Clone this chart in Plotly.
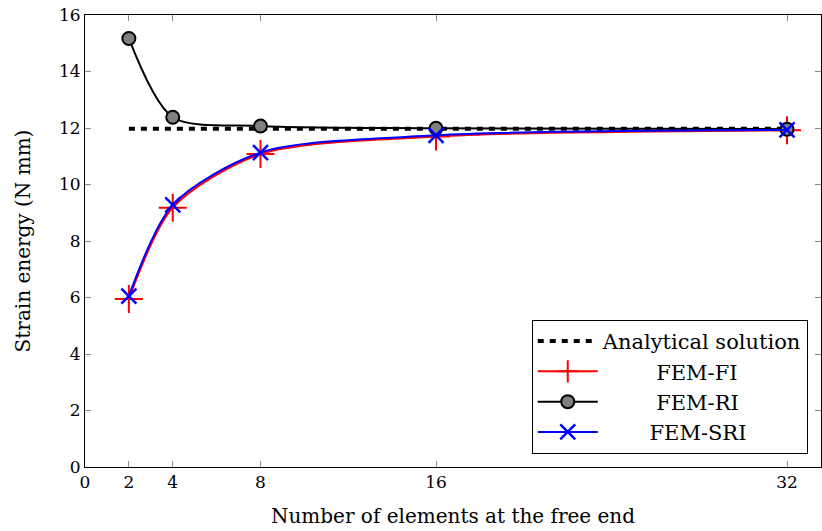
import plotly.graph_objects as go

x_vals = [2, 4, 8, 16, 32]
analytical_x = [2, 32]
analytical_y = [11.97, 11.97]
fem_fi = [5.95, 9.18, 11.08, 11.70, 11.92]
fem_ri = [15.17, 12.38, 12.07, 11.99, 11.96]
fem_sri = [6.05, 9.28, 11.13, 11.74, 11.93]

x_ticks = [0, 2, 4, 8, 16, 32]
y_ticks = [0, 2, 4, 6, 8, 10, 12, 14, 16]

FONT = "DejaVu Serif"
NB = "\u00a0"

fig = go.Figure()
fig.add_trace(go.Scatter(
    x=analytical_x, y=analytical_y, mode="lines", name="Analytical solution",
    line=dict(color="black", width=4, dash="6px,6px")))
fig.add_trace(go.Scatter(
    x=x_vals, y=fem_fi, mode="lines+markers", name=NB * 8 + "FEM-FI",
    line=dict(color="#ff0000", width=2, shape="spline", smoothing=0.8),
    marker=dict(symbol="cross-thin", size=20, line=dict(color="#ff0000", width=2))))
fig.add_trace(go.Scatter(
    x=x_vals, y=fem_ri, mode="lines+markers", name=NB * 8 + "FEM-RI",
    line=dict(color="black", width=2, shape="spline", smoothing=0.8),
    marker=dict(symbol="circle", size=13, color="#808080", line=dict(color="black", width=2))))
fig.add_trace(go.Scatter(
    x=x_vals, y=fem_sri, mode="lines+markers", name=NB * 7 + "FEM-SRI",
    line=dict(color="#0000ff", width=2, shape="spline", smoothing=0.8),
    marker=dict(symbol="x-thin", size=15, line=dict(color="#0000ff", width=2.5))))

axis_common = dict(
    showline=True, linecolor="black", linewidth=1, mirror="allticks",
    ticks="inside", ticklen=6, tickcolor="#888888", tickwidth=1,
    showgrid=False, zeroline=False, ticklabeloverflow="allow",
    tickfont=dict(family=FONT, size=17, color="black"),
)

fig.update_layout(
    width=822, height=531,
    paper_bgcolor="white", plot_bgcolor="white",
    margin=dict(l=85, r=1, t=15, b=64, autoexpand=False),
    font=dict(family=FONT, size=17, color="black"),
    xaxis=dict(range=[0, 33.55], tickvals=x_ticks, ticktext=[str(v) for v in x_ticks],
               title=dict(text="Number of elements at the free end", standoff=17,
                          font=dict(family=FONT, size=20)), **axis_common),
    yaxis=dict(range=[0, 16], tickvals=y_ticks, ticktext=[str(v) for v in y_ticks],
               title=dict(text="Strain energy (N mm)", standoff=22,
                          font=dict(family=FONT, size=20)), **axis_common),
    legend=dict(x=0.982, y=0.029, xanchor="right", yanchor="bottom",
                bordercolor="black", borderwidth=1, bgcolor="white",
                font=dict(family=FONT, size=21), itemwidth=60,
                tracegroupgap=0),
    showlegend=True,
)

fig.write_html("out.html", config={"displayModeBar": False},
               post_script="document.body.style.margin='0';")
